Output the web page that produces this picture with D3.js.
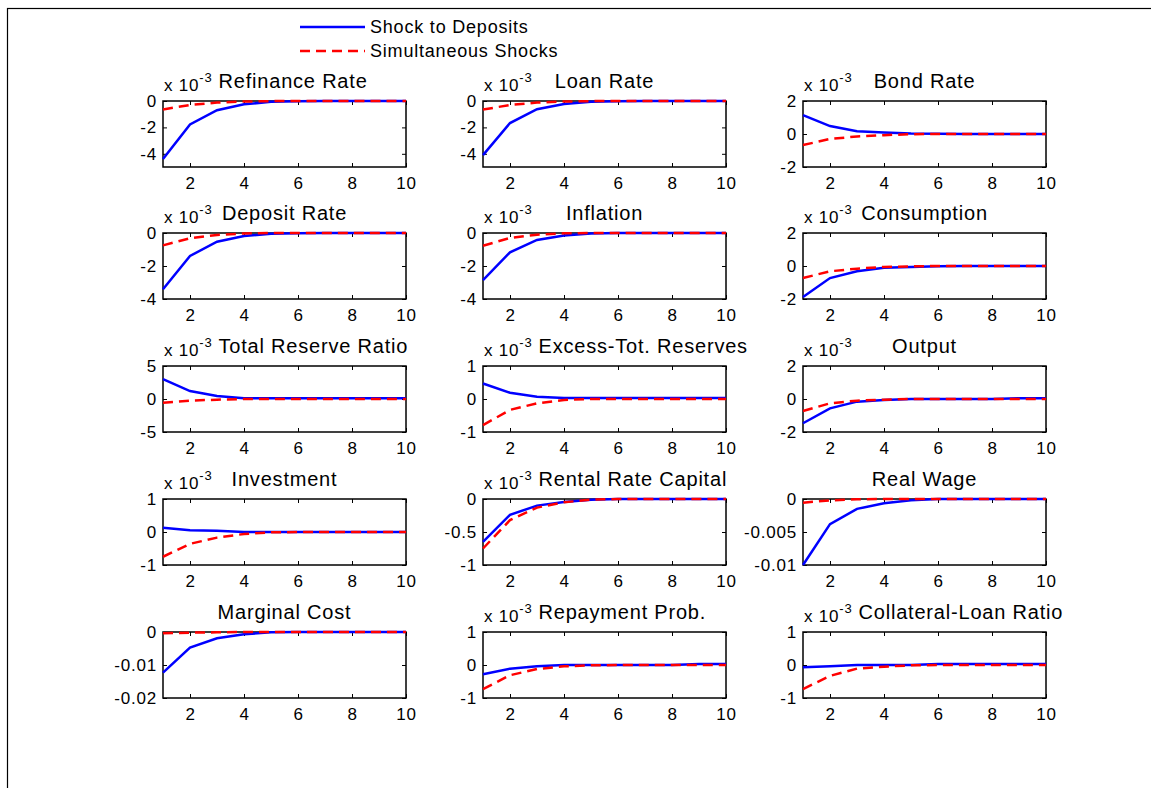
<!DOCTYPE html>
<html>
<head>
<meta charset="utf-8">
<script src="https://cdn.jsdelivr.net/npm/d3@7"></script>
<style>
body { margin: 0; background: #fff; }
svg text { font-family: "Liberation Sans", Arial, Helvetica, sans-serif; fill: #000; letter-spacing: 0.8px; }
.tick line { stroke: #000; stroke-width: 1; }
.tick text { font-size: 17px; }
</style>
</head>
<body>
<svg id="chart" width="1151" height="788"></svg>
<script>
// impulse responses, periods 1..10
var periods = [1, 2, 3, 4, 5, 6, 7, 8, 9, 10];
var xTicks = [2, 4, 6, 8, 10];
var seriesNames = ["Shock to Deposits", "Simultaneous Shocks"];

var panelTitles = [
	"Refinance Rate", "Loan Rate", "Bond Rate",
	"Deposit Rate", "Inflation", "Consumption",
	"Total Reserve Ratio", "Excess-Tot. Reserves", "Output",
	"Investment", "Rental Rate Capital", "Real Wage",
	"Marginal Cost", "Repayment Prob.", "Collateral-Loan Ratio"
];

// exponent shown above the y axis (values below are in those units)
var panelExponent = [-3, -3, -3, -3, -3, -3, -3, -3, -3, -3, -3, null, null, -3, -3];

var yDomains = [
	[-5, 0], [-5, 0], [-2, 2],
	[-4, 0], [-4, 0], [-2, 2],
	[-5, 5], [-1, 1], [-2, 2],
	[-1, 1], [-1, 0], [-0.01, 0],
	[-0.02, 0], [-1, 1], [-1, 1]
];

var yTicks = [
	[-4, -2, 0], [-4, -2, 0], [-2, 0, 2],
	[-4, -2, 0], [-4, -2, 0], [-2, 0, 2],
	[-5, 0, 5], [-1, 0, 1], [-2, 0, 2],
	[-1, 0, 1], [-1, -0.5, 0], [-0.01, -0.005, 0],
	[-0.02, -0.01, 0], [-1, 0, 1], [-1, 0, 1]
];

var shockDeposits = [
	[-4.4, -1.77, -0.7, -0.25, -0.06, -0.01, 0, 0, 0, 0],
	[-4.1, -1.67, -0.62, -0.23, -0.06, -0.01, 0, 0, 0, 0],
	[1.14, 0.48, 0.17, 0.09, 0.03, 0.01, 0, 0, 0, 0],
	[-3.41, -1.39, -0.53, -0.18, -0.05, -0.01, 0, 0, 0, 0],
	[-2.85, -1.17, -0.42, -0.15, -0.03, 0, 0, 0, 0, 0],
	[-1.88, -0.73, -0.32, -0.1, -0.06, -0.01, 0, 0, 0, 0],
	[3.0, 1.2, 0.45, 0.12, 0.1, 0.1, 0.1, 0.1, 0.1, 0.1],
	[0.47, 0.19, 0.07, 0.03, 0.03, 0.03, 0.03, 0.03, 0.03, 0.03],
	[-1.47, -0.57, -0.16, -0.06, 0, 0, 0, 0, 0.05, 0.05],
	[0.13, 0.05, 0.04, 0, 0, 0, 0, 0, 0, 0],
	[-0.65, -0.24, -0.1, -0.045, -0.01, 0, 0, 0, 0, 0],
	[-0.01, -0.0038, -0.0015, -0.00066, -0.0002, 0, 0, 0, 0, 0],
	[-0.0123, -0.0047, -0.0019, -0.0007, -0.0001, 0, 0, 0, 0, 0],
	[-0.28, -0.11, -0.04, 0, 0, 0, 0, 0, 0.03, 0.03],
	[-0.07, -0.04, 0, 0, 0, 0.03, 0.03, 0.03, 0.03, 0.03]
];

var simultaneousShocks = [
	[-0.64, -0.3, -0.12, -0.04, -0.01, 0, 0, 0, 0, 0],
	[-0.65, -0.3, -0.12, -0.04, -0.01, 0, 0, 0, 0, 0],
	[-0.67, -0.3, -0.15, -0.07, -0.01, 0, 0, 0, 0, 0],
	[-0.75, -0.32, -0.12, -0.03, 0, 0, 0, 0, 0, 0],
	[-0.77, -0.3, -0.1, -0.02, 0, 0, 0, 0, 0, 0],
	[-0.73, -0.32, -0.16, -0.06, -0.02, 0, 0, 0, 0, 0],
	[-0.55, -0.25, -0.1, 0, 0, 0, 0, 0, 0, 0],
	[-0.79, -0.33, -0.13, -0.03, 0, 0, 0, 0, 0, 0],
	[-0.73, -0.26, -0.1, -0.04, 0, 0, 0, 0, 0, 0],
	[-0.75, -0.36, -0.17, -0.06, -0.01, 0, 0, 0, 0, 0],
	[-0.75, -0.32, -0.13, -0.05, -0.01, 0, 0, 0, 0, 0],
	[-0.00056, -0.0002, -0.00005, 0, 0, 0, 0, 0, 0, 0],
	[-0.0004, -0.0002, -0.0001, 0, 0, 0, 0, 0, 0, 0],
	[-0.73, -0.31, -0.12, -0.04, -0.01, 0, 0, 0, 0, 0],
	[-0.73, -0.33, -0.11, -0.05, -0.01, 0, 0, 0, 0, 0]
];

var colors = ["#0000ff", "#ff0000"],
	lineWidth = 2.5,
	dash = "10,6";

var colLeft = [163, 483, 803],
	rowTop = [101, 233, 366, 499, 632],
	plotW = 243,
	plotH = 66;

var svg = d3.select('#chart');

// outer figure frame
svg.append('rect')
	.attr('x', 7.5)
	.attr('y', 8.5)
	.attr('width', 1300)
	.attr('height', 900)
	.attr('fill', 'none')
	.attr('stroke', '#000')
	.attr('stroke-width', 1.2);

var x = d3.scaleLinear().domain([1, 10]).range([0, plotW]);

panelTitles.forEach(function(title, i){
	var g = svg.append('g')
		.attr('transform', 'translate(' + colLeft[i % 3] + ',' + rowTop[Math.floor(i / 3)] + ')');

	var y = d3.scaleLinear().domain(yDomains[i]).range([plotH, 0]);

	g.append('g')
		.attr('transform', 'translate(0,' + plotH + ')')
		.call(d3.axisBottom(x).tickValues(xTicks).tickSizeInner(-4).tickSizeOuter(0).tickPadding(10).tickFormat(String));
	g.append('g')
		.call(d3.axisTop(x).tickValues(xTicks).tickSizeInner(-4).tickSizeOuter(0).tickFormat(''));
	g.append('g')
		.call(d3.axisLeft(y).tickValues(yTicks[i]).tickSizeInner(-4).tickSizeOuter(0).tickPadding(6).tickFormat(String));
	g.append('g')
		.attr('transform', 'translate(' + plotW + ',0)')
		.call(d3.axisRight(y).tickValues(yTicks[i]).tickSizeInner(-4).tickSizeOuter(0).tickFormat(''));

	g.selectAll('.domain').remove();
	g.selectAll('.tick text').attr('font-family', null).attr('font-size', null);

	g.append('rect')
		.attr('width', plotW)
		.attr('height', plotH)
		.attr('fill', 'none')
		.attr('stroke', '#000')
		.attr('stroke-width', 1.5);

	var line = d3.line()
		.x(function(d, k){ return x(periods[k]); })
		.y(function(d){ return y(d); });

	[shockDeposits[i], simultaneousShocks[i]].forEach(function(vals, s){
		g.append('path')
			.datum(vals)
			.attr('d', line)
			.attr('fill', 'none')
			.attr('stroke', colors[s])
			.attr('stroke-width', lineWidth)
			.attr('stroke-dasharray', s === 1 ? dash : null);
	});

	// exponent label like "x 10^-3"
	var expEnd = 0;
	if (panelExponent[i] !== null) {
		var ex = g.append('text')
			.attr('x', 1)
			.attr('y', -10)
			.attr('font-size', 17);
		ex.append('tspan').text('x 10');
		ex.append('tspan')
			.attr('dy', -9)
			.attr('font-size', 13)
			.text(panelExponent[i]);
		expEnd = 1 + ex.node().getComputedTextLength();
	}

	var t = g.append('text')
		.attr('y', -13)
		.attr('font-size', 20)
		.text(title);
	var w = t.node().getComputedTextLength();
	var tx = plotW / 2 - w / 2;
	if (expEnd && tx < expEnd + 6) tx = expEnd + 6;
	t.attr('x', tx);
});

// legend
var legend = svg.append('g').attr('transform', 'translate(300,0)');
seriesNames.forEach(function(name, s){
	var ly = 27 + s * 24;
	legend.append('line')
		.attr('x1', 0)
		.attr('x2', 65)
		.attr('y1', ly)
		.attr('y2', ly)
		.attr('stroke', colors[s])
		.attr('stroke-width', lineWidth)
		.attr('stroke-dasharray', s === 1 ? dash : null);
	legend.append('text')
		.attr('x', 70)
		.attr('y', ly + 6)
		.attr('font-size', 18)
		.text(name);
});
</script>
</body>
</html>
